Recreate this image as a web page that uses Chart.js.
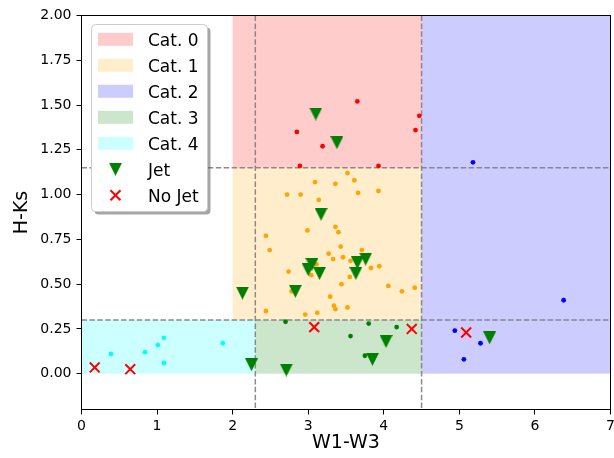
<!DOCTYPE html>
<html>
<head>
<meta charset="utf-8">
<script src="https://cdn.jsdelivr.net/npm/chart.js@4.4.0/dist/chart.umd.min.js"></script>
<style>
  html, body { margin: 0; padding: 0; background: #fff; }
  canvas { display: block; }
</style>
</head>
<body>
<canvas id="c" width="614" height="458"></canvas>
<script>
// Colour-colour sources, one list of [W1-W3, H-Ks] pairs per category
const cat0Pts = [[3.65,1.52],[4.47,1.44],[4.42,1.36],[2.85,1.35],[3.19,1.27],[2.89,1.16],[3.93,1.16]];
const cat1Pts = [[3.52,1.12],[3.09,1.07],[3.36,1.06],[3.61,1.08],[2.72,1.00],[2.90,1.00],[3.66,1.01],[3.93,1.02],
                 [3.14,0.97],[3.36,0.82],[3.40,0.79],[2.99,0.80],[2.44,0.77],[3.43,0.71],[2.49,0.69],[3.71,0.69],
                 [3.27,0.67],[3.46,0.65],[3.33,0.64],[3.56,0.63],[2.74,0.57],[3.04,0.55],[3.11,0.61],[3.83,0.59],
                 [3.94,0.60],[3.55,0.54],[3.44,0.50],[4.06,0.49],[4.24,0.46],[4.41,0.48],[2.78,0.46],[3.29,0.43],
                 [3.34,0.38],[3.36,0.36],[3.52,0.37],[2.44,0.35],[2.96,0.33],[3.12,0.34]];
const cat2Pts = [[5.18,1.18],[6.38,0.41],[4.94,0.24],[5.28,0.17],[5.06,0.08]];
const cat3Pts = [[2.70,0.29],[3.80,0.28],[4.17,0.26],[3.56,0.21],[3.75,0.10]];
const cat4Pts = [[0.39,0.11],[0.84,0.12],[1.01,0.16],[1.09,0.20],[1.09,0.06],[1.87,0.17]];

// Sources with and without a detected jet
const jetPts = [[3.10,1.45],[3.38,1.29],[3.17,0.89],[2.13,0.45],[2.83,0.46],[3.05,0.61],[3.00,0.58],[3.15,0.56],
                [3.65,0.62],[3.76,0.64],[3.63,0.56],[4.03,0.18],[3.85,0.08],[2.71,0.02],[2.25,0.05],[5.40,0.20]];
const noJetPts = [[3.08,0.26],[4.37,0.25],[0.175,0.035],[0.645,0.025],[5.09,0.23]];

// Category boxes in data units
const catNames = ['Cat. 0', 'Cat. 1', 'Cat. 2', 'Cat. 3', 'Cat. 4'];
const catBoxX0 = [2.0, 2.0, 4.5, 2.3, 0.0];
const catBoxX1 = [4.5, 4.5, 7.0, 4.5, 2.3];
const catBoxY0 = [1.15, 0.3, 0.0, 0.0, 0.0];
const catBoxY1 = [2.0, 1.15, 2.0, 0.3, 0.3];

// Dashed cut lines
const cutX = [2.3, 4.5];
const cutY = [1.15, 0.3];

// Axis ticks
const xTickValues = [0, 1, 2, 3, 4, 5, 6, 7];
const xTickLabels = ['0', '1', '2', '3', '4', '5', '6', '7'];
const yTickValues = [0, 0.25, 0.5, 0.75, 1.0, 1.25, 1.5, 1.75, 2.0];
const yTickLabels = ['0.00', '0.25', '0.50', '0.75', '1.00', '1.25', '1.50', '1.75', '2.00'];

const catFill = ['rgba(255,0,0,0.2)', 'rgba(255,165,0,0.2)', 'rgba(0,0,255,0.2)', 'rgba(0,128,0,0.2)', 'rgba(0,255,255,0.2)'];
const catDot = ['#ff0000', '#ffa500', '#0000ff', '#008000', '#00ffff'];
const catPts = [cat0Pts, cat1Pts, cat2Pts, cat3Pts, cat4Pts];

const FONT = "'DejaVu Sans', sans-serif";

// Downward triangle marker, as wide as it is tall
function downTriangle(size, color) {
  const c = document.createElement('canvas');
  c.width = size; c.height = size;
  const g = c.getContext('2d');
  g.fillStyle = color;
  g.beginPath();
  g.moveTo(0, 0); g.lineTo(size, 0); g.lineTo(size / 2, size); g.closePath();
  g.fill();
  return c;
}
const triMarker = downTriangle(13, '#008000');

const toXY = pts => pts.map(p => ({ x: p[0], y: p[1] }));

const datasets = catPts.map((pts, i) => ({
  label: catNames[i],
  data: toXY(pts),
  pointStyle: 'circle',
  pointRadius: 2.4,
  pointBorderWidth: 0,
  pointBackgroundColor: catDot[i],
  order: 3
}));
datasets.push({
  label: 'Jet',
  data: toXY(jetPts),
  pointStyle: triMarker,
  pointRadius: 7,
  order: 2
});
datasets.push({
  label: 'No Jet',
  data: toXY(noJetPts),
  pointStyle: 'crossRot',
  pointRadius: 7,
  pointBorderWidth: 2,
  pointBorderColor: '#ff0000',
  order: 1
});

// Shaded category boxes and dashed cut lines beneath the points
const regionPlugin = {
  id: 'regions',
  beforeDatasetsDraw(chart) {
    const { ctx, chartArea: a, scales: { x, y } } = chart;
    ctx.save();
    ctx.beginPath(); ctx.rect(a.left, a.top, a.width, a.height); ctx.clip();
    catBoxX0.forEach((_, i) => {
      const px0 = x.getPixelForValue(catBoxX0[i]), px1 = x.getPixelForValue(catBoxX1[i]);
      const py0 = y.getPixelForValue(catBoxY1[i]), py1 = y.getPixelForValue(catBoxY0[i]);
      ctx.fillStyle = catFill[i];
      ctx.fillRect(px0, py0, px1 - px0, py1 - py0);
    });
    ctx.setLineDash([5.5, 2.4]);
    ctx.lineWidth = 1.5;
    ctx.strokeStyle = 'rgba(128,128,128,0.9)';
    cutX.forEach(v => {
      const p = x.getPixelForValue(v);
      ctx.beginPath(); ctx.moveTo(p, a.top); ctx.lineTo(p, a.bottom); ctx.stroke();
    });
    cutY.forEach(v => {
      const p = y.getPixelForValue(v);
      ctx.beginPath(); ctx.moveTo(a.left, p); ctx.lineTo(a.right, p); ctx.stroke();
    });
    ctx.restore();
  }
};

// Axes frame and boxed legend drawn over the points
const framePlugin = {
  id: 'frameLegend',
  afterDatasetsDraw(chart) {
    const { ctx, chartArea: a } = chart;
    ctx.save();
    ctx.strokeStyle = '#000';
    ctx.lineWidth = 1;
    ctx.strokeRect(a.left, a.top, a.right - a.left, a.bottom - a.top);

    const bx = 91.5, by = 24.5, bw = 116, bh = 187, r = 4;
    const rr = (x0, y0) => {
      ctx.beginPath();
      ctx.roundRect(x0, y0, bw, bh, r);
    };
    // shadow
    rr(bx + 3, by + 3);
    ctx.fillStyle = 'rgba(77,77,77,0.5)';
    ctx.fill();
    // box
    rr(bx, by);
    ctx.fillStyle = '#fff';
    ctx.fill();
    ctx.strokeStyle = '#cccccc';
    ctx.stroke();

    const rowY = i => 39.3 + 26 * i;
    const handleX = 98, handleW = 35, handleH = 13, textX = 148;
    ctx.font = '17px ' + FONT;
    ctx.textBaseline = 'alphabetic';
    ctx.textAlign = 'left';
    catNames.forEach((name, i) => {
      ctx.fillStyle = catFill[i];
      ctx.fillRect(handleX, rowY(i) - handleH / 2, handleW, handleH);
      ctx.fillStyle = '#000';
      ctx.fillText(name, textX, rowY(i) + 6.2);
    });
    const mx = handleX + handleW / 2;
    // Jet entry
    ctx.drawImage(triMarker, mx - 6.5, rowY(5) - 6.5);
    ctx.fillStyle = '#000';
    ctx.fillText('Jet', textX, rowY(5) + 6.2);
    // No Jet entry
    const d = 5;
    ctx.strokeStyle = '#ff0000';
    ctx.lineWidth = 2;
    ctx.beginPath();
    ctx.moveTo(mx - d, rowY(6) - d); ctx.lineTo(mx + d, rowY(6) + d);
    ctx.moveTo(mx - d, rowY(6) + d); ctx.lineTo(mx + d, rowY(6) - d);
    ctx.stroke();
    ctx.fillText('No Jet', textX, rowY(6) + 6.2);
    ctx.restore();
  }
};

Chart.defaults.font.family = FONT;
Chart.defaults.color = '#000';

new Chart(document.getElementById('c'), {
  type: 'scatter',
  data: { datasets },
  options: {
    responsive: false,
    animation: false,
    events: [],
    layout: { autoPadding: false, padding: { left: 0, top: 15.5, right: 3.5, bottom: 0 } },
    plugins: { legend: { display: false }, tooltip: { enabled: false } },
    scales: {
      x: {
        type: 'linear',
        min: 0, max: 7,
        afterBuildTicks: s => { s.ticks = xTickValues.map(v => ({ value: v })); },
        afterFit: s => { s.height = 48.5; s.paddingLeft = 0; s.paddingRight = 0; },
        border: { display: false },
        grid: { drawOnChartArea: false, drawTicks: true, tickLength: 5, tickColor: '#000', tickWidth: 1 },
        ticks: { autoSkip: false, maxRotation: 0, padding: 3, font: { size: 14 }, color: '#000',
                 callback: (v, i) => xTickLabels[i] },
        title: { display: true, text: 'W1-W3', font: { size: 19 }, color: '#000', padding: { top: 0, bottom: 4 } }
      },
      y: {
        type: 'linear',
        min: -0.2, max: 2.0,
        afterBuildTicks: s => { s.ticks = yTickValues.map(v => ({ value: v })); },
        afterFit: s => { s.width = 81.5; s.paddingTop = 0; s.paddingBottom = 0; },
        border: { display: false },
        grid: { drawOnChartArea: false, drawTicks: true, tickLength: 5, tickColor: '#000', tickWidth: 1 },
        ticks: { autoSkip: false, padding: 5, font: { size: 14 }, color: '#000',
                 callback: (v, i) => yTickLabels[i] },
        title: { display: true, text: 'H-Ks', font: { size: 19 }, color: '#000', padding: { top: 11, bottom: 0 } }
      }
    }
  },
  plugins: [regionPlugin, framePlugin]
});
</script>
</body>
</html>
